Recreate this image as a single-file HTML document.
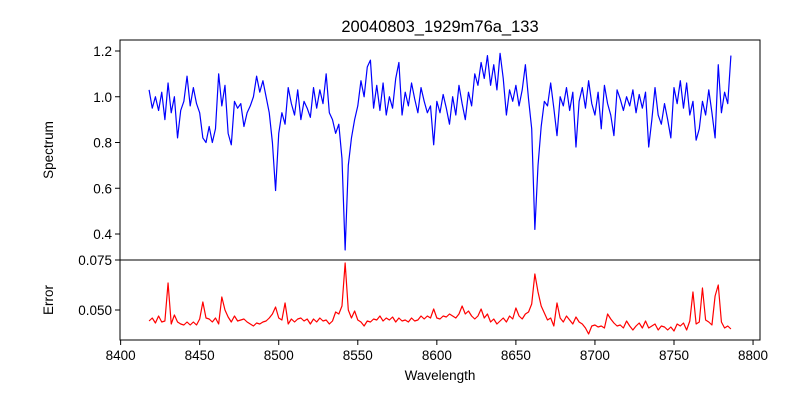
<!DOCTYPE html>
<html><head><meta charset="utf-8"><style>
body{margin:0;background:#fff;}
svg{display:block;font-family:"Liberation Sans","DejaVu Sans",sans-serif;}
</style></head><body>
<svg id="chart" width="800" height="400" xmlns="http://www.w3.org/2000/svg">
<rect width="800" height="400" fill="#fff"/>
<text x="440" y="32" font-size="16.5" text-anchor="middle">20040803_1929m76a_133</text>
<text transform="translate(53,150) rotate(-90)" font-size="13.5" text-anchor="middle">Spectrum</text>
<text transform="translate(53,300) rotate(-90)" font-size="13.5" text-anchor="middle">Error</text>
<text x="440" y="380" font-size="13.5" text-anchor="middle">Wavelength</text>
<g id="g"></g>
</svg>
<script>
const startW = 8418;
const stepW = 2;
const spectrum = [1.03,0.95,1.00,0.94,1.02,0.90,1.06,0.93,1.00,0.82,0.94,0.98,1.09,0.96,1.04,0.97,0.93,0.82,0.80,0.87,0.80,0.86,1.10,0.96,1.05,0.84,0.79,0.98,0.95,0.97,0.87,0.93,0.96,1.00,1.09,1.02,1.07,1.00,0.93,0.80,0.59,0.84,0.93,0.88,1.04,0.97,0.92,1.03,0.90,0.98,0.95,0.91,1.04,0.95,1.03,0.97,1.10,0.93,0.90,0.84,0.88,0.73,0.33,0.70,0.82,0.90,0.96,1.07,1.00,1.13,1.16,0.95,1.05,0.94,1.06,0.92,1.00,0.95,1.08,1.15,0.92,1.02,0.96,1.06,0.99,0.93,1.04,0.98,0.93,0.96,0.79,0.98,0.93,1.01,0.95,0.88,1.00,0.92,1.05,0.97,0.90,1.02,0.96,1.10,1.05,1.15,1.08,1.18,1.05,1.14,1.03,1.19,1.08,0.92,1.03,0.98,1.05,0.96,1.03,1.14,0.99,0.86,0.42,0.70,0.87,0.98,0.96,1.06,0.95,0.83,1.00,0.96,1.04,0.94,1.02,0.78,0.98,1.04,0.95,1.07,0.97,0.92,1.02,0.86,1.05,0.97,0.92,0.83,1.03,0.99,0.94,1.00,0.96,1.03,0.93,1.01,0.95,1.02,0.78,0.90,1.04,0.92,0.88,0.97,0.90,0.82,1.04,0.97,1.07,0.95,1.06,0.92,0.98,0.81,0.86,0.98,0.92,1.03,0.93,0.82,1.14,0.93,1.02,0.97,1.18];
const errors = [.0445,.046,.0435,.047,.044,.0445,.0635,.043,.0475,.044,.043,.0425,.044,.0425,.044,.0425,.0455,.054,.046,.0455,.044,.046,.043,.0565,.050,.0465,.044,.047,.0445,.045,.0455,.044,.043,.042,.0435,.043,.044,.0445,.046,.048,.0515,.046,.045,.0535,.043,.0455,.044,.0455,.046,.0445,.0455,.043,.0455,.044,.046,.0445,.045,.043,.0445,.049,.048,.052,.0735,.050,.046,.0495,.045,.044,.042,.0445,.044,.0455,.045,.047,.0445,.046,.045,.0465,.044,.046,.0445,.045,.044,.046,.0445,.045,.047,.0455,.047,.046,.0505,.046,.0455,.047,.0465,.048,.047,.046,.048,.052,.048,.0495,.047,.0455,.047,.0505,.046,.048,.044,.0455,.043,.0445,.046,.044,.047,.0455,.051,.047,.0455,.048,.049,.053,.068,.059,.052,.0485,.045,.046,.042,.0535,.046,.044,.047,.045,.043,.0465,.044,.043,.041,.038,.042,.0425,.0415,.042,.041,.048,.0455,.0435,.042,.0425,.041,.0445,.042,.040,.042,.0435,.041,.0445,.041,.042,.043,.040,.042,.0415,.040,.0415,.0395,.043,.042,.0435,.040,.0445,.059,.043,.044,.061,.045,.044,.0425,.057,.0625,.044,.041,.042,.0405];
const xTicks = [8400,8450,8500,8550,8600,8650,8700,8750,8800];
const specTicks = [0.4,0.6,0.8,1.0,1.2];
const specTickLabels = ["0.4","0.6","0.8","1.0","1.2"];
const errTicks = [0.050,0.075];
const errTickLabels = ["0.050","0.075"];

const L=120,R=760,T1=40,B1=260,T2=260,B2=340;
const X = w => L + (w-8399.6)*(R-L)/404.8;
const Y1 = v => 51 + (1.2-v)*228.75;
const Y2 = v => 260 + (0.075-v)*2000;
const NS="http://www.w3.org/2000/svg";
const g=document.getElementById('g');
function mk(t,a){const e=document.createElementNS(NS,t);for(const k in a)e.setAttribute(k,a[k]);g.appendChild(e);return e;}

let p=spectrum.map((v,i)=>(i?'L':'M')+X(startW+i*stepW).toFixed(2)+','+Y1(v).toFixed(2)).join('');
let s=mk('path',{d:p,fill:'none',stroke:'#0000ff','stroke-width':1.2,'stroke-linejoin':'round'});


p=errors.map((v,i)=>(i?'L':'M')+X(startW+i*stepW).toFixed(2)+','+Y2(v).toFixed(2)).join('');
let e2=mk('path',{d:p,fill:'none',stroke:'#ff0000','stroke-width':1.2,'stroke-linejoin':'round'});



let f1=mk('rect',{x:L,y:T1,width:R-L,height:B1-T1,fill:'none',stroke:'#000','stroke-width':1});


let f2=mk('rect',{x:L,y:T2,width:R-L,height:B2-T2,fill:'none',stroke:'#000','stroke-width':1});



specTicks.forEach((v,i)=>{
  const y=Y1(v);
  let t=mk('line',{x1:L-5,x2:L,y1:y,y2:y,stroke:'#000'});
  
  
  let tx=mk('text',{x:L-8,y:y+5,'font-size':13.5,'text-anchor':'end'});
  tx.textContent=specTickLabels[i];
  
  
});
errTicks.forEach((v,i)=>{
  const y=Y2(v);
  let t=mk('line',{x1:L-5,x2:L,y1:y,y2:y,stroke:'#000'});
  
  
  let tx=mk('text',{x:L-8,y:y+5,'font-size':13.5,'text-anchor':'end'});
  tx.textContent=errTickLabels[i];
  
  
});
xTicks.forEach(w=>{
  const x=X(w);
  let t=mk('line',{x1:x,x2:x,y1:B2,y2:B2+5,stroke:'#000'});
  
  
  let tx=mk('text',{x:x,y:B2+20,'font-size':13.5,'text-anchor':'middle'});
  tx.textContent=String(w);
  
  
});
</script>
</body></html>
